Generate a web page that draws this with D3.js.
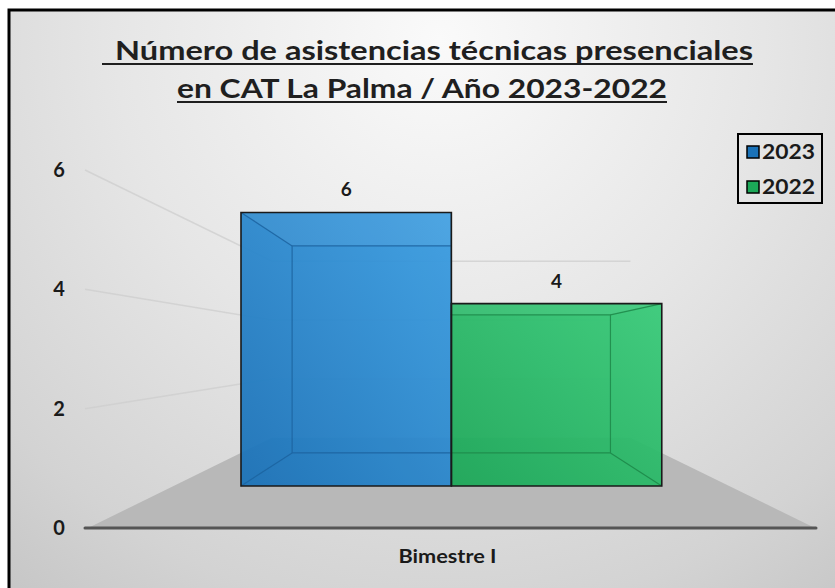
<!DOCTYPE html>
<html>
<head>
<meta charset="utf-8">
<script src="https://cdn.jsdelivr.net/npm/d3@7"></script>
<style>
  body { margin: 0; background: #fff; }
  svg { display: block; font-family: Lato, "Open Sans", sans-serif; }
</style>
</head>
<body>
<svg id="chart" width="835" height="588"></svg>
<script>
// data
const categories = ["Bimestre I"];
const series = ["2023", "2022"];
const values2023 = [6];
const values2022 = [4];
const yTicks = [0, 2, 4, 6];
const titleLines = ["Número de asistencias técnicas presenciales", "en CAT La Palma / Año 2023-2022"];
const colors = {"2023": ["#3a9de2", "#1a72b8", "#1462a3"], "2022": ["#38cb79", "#1ca858", "#168c47"]};

const chart = d3.select("#chart");
const defs = chart.append("defs");

// background
const bg = defs.append("radialGradient").attr("id", "bg")
      .attr("gradientUnits", "userSpaceOnUse")
      .attr("cx", 440).attr("cy", 40).attr("r", 720);
[[0, "#fafafa"], [0.45, "#e6e6e6"], [0.8, "#d3d3d3"], [1, "#c4c4c4"]].forEach(s => {
      bg.append("stop").attr("offset", s[0]).attr("stop-color", s[1]);
});
series.forEach(k => {
      const g = defs.append("linearGradient").attr("id", "grad" + k)
            .attr("x1", 1).attr("y1", 0).attr("x2", 0).attr("y2", 1);
      g.append("stop").attr("offset", 0).attr("stop-color", colors[k][0]);
      g.append("stop").attr("offset", 1).attr("stop-color", colors[k][1]);
});

chart.append("rect")
      .attr("x", 9).attr("y", 10)
      .attr("width", 840).attr("height", 600)
      .attr("fill", "url(#bg)")
      .attr("stroke", "#000")
      .attr("stroke-width", 3);

// perspective: front plane scales, then shrink toward vanishing point
const VP = [451, 350];
const S_BAR_FRONT = 0.764, S_BAR_BACK = 0.578, S_WALL = 0.493;
const project = (X, Y, s) => [VP[0] + s * (X - VP[0]), VP[1] + s * (Y - VP[1])];

const yScale = d3.scaleLinear().domain([0, 6]).range([528, 170]);
const xScale = d3.scaleBand().domain(categories).range([88, 815])
      .paddingInner(0).paddingOuter(0.16);
const xSeries = d3.scaleBand().domain(series).range([0, xScale.bandwidth()]);

const x0 = xScale.range()[0], x1 = xScale.range()[1];
const line = d3.line();

// gridlines: side wall + back wall
const wallR = project(x1, 0, S_WALL)[0];
yTicks.filter(v => v > 0).forEach(v => {
      const back = project(x0, yScale(v), S_WALL);
      chart.append("path")
            .attr("d", line([[x0 - 3, yScale(v)], back, [wallR, back[1]]]))
            .attr("fill", "none")
            .attr("stroke", "#cdcdcd")
            .attr("stroke-opacity", 0.75)
            .attr("stroke-width", 1.5);
});

// floor
chart.append("path")
      .attr("d", line([[x0, yScale(0)], [x1, yScale(0)],
            project(x1, yScale(0), S_WALL), project(x0, yScale(0), S_WALL)]) + "Z")
      .attr("fill", "#b8b8b8");

// bars
const data = [];
categories.forEach((c, i) => {
      data.push({cat: c, key: "2023", value: values2023[i]});
      data.push({cat: c, key: "2022", value: values2022[i]});
});

data.forEach(d => {
      const X1 = xScale(d.cat) + xSeries(d.key);
      const X2 = X1 + xSeries.bandwidth();
      const Yt = yScale(d.value), Yb = yScale(0);
      const f = [[X1, Yt], [X2, Yt], [X2, Yb], [X1, Yb]].map(p => project(p[0], p[1], S_BAR_FRONT));
      const b = [[X1, Yt], [X2, Yt], [X2, Yb], [X1, Yb]].map(p => project(p[0], p[1], S_BAR_BACK));
      d.front = f;

      const g = chart.append("g").attr("opacity", 0.94);
      g.append("path")
            .attr("d", line(f) + "Z")
            .attr("fill", "url(#grad" + d.key + ")");
      // top face highlight
      g.append("path")
            .attr("d", line([f[0], f[1], b[1], b[0]]) + "Z")
            .attr("fill", "#fff").attr("fill-opacity", 0.05);
      // back edges seen through
      g.append("path")
            .attr("d", line(b) + "Z")
            .attr("fill", "none")
            .attr("stroke", colors[d.key][2])
            .attr("stroke-width", 1.2);
      f.forEach((p, i) => {
            g.append("path")
                  .attr("d", line([p, b[i]]))
                  .attr("stroke", colors[d.key][2])
                  .attr("stroke-width", 1.2);
      });
});

data.forEach(d => {
      chart.append("path")
            .attr("d", line(d.front) + "Z")
            .attr("fill", "none")
            .attr("stroke", "#1a1a1a")
            .attr("stroke-width", 1.6);

      chart.append("text")
            .text(d.value)
            .attr("x", (d.front[0][0] + d.front[1][0]) / 2)
            .attr("y", d.front[0][1] - 16)
            .attr("text-anchor", "middle")
            .attr("font-size", "19px")
            .attr("font-weight", 700)
            .attr("fill", "#1a1a1a");
});

// axis line (floor front edge)
chart.append("line")
      .attr("x1", x0 - 3).attr("x2", x1 + 1)
      .attr("y1", yScale(0)).attr("y2", yScale(0))
      .attr("stroke", "#555")
      .attr("stroke-width", 3)
      .attr("stroke-linecap", "round");

// y labels
chart.selectAll("text.ylab")
      .data(yTicks).enter()
      .append("text")
      .attr("class", "ylab")
      .text(d => d)
      .attr("x", 59)
      .attr("y", d => yScale(d) + 7)
      .attr("text-anchor", "middle")
      .attr("font-size", "20px")
      .attr("font-weight", 700)
      .attr("fill", "#1a1a1a");

// category label
chart.selectAll("text.xlab")
      .data(categories).enter()
      .append("text")
      .attr("class", "xlab")
      .text(d => d)
      .attr("x", d => xScale(d) + xScale.bandwidth() / 2 - 4)
      .attr("y", 563)
      .attr("text-anchor", "middle")
      .attr("font-size", "19px")
      .attr("font-weight", 700)
      .attr("textLength", 98)
      .attr("lengthAdjust", "spacingAndGlyphs")
      .attr("fill", "#1a1a1a");

// title
const titlePos = [{x: 115, y: 60, len: 638, ux: 102, uy: 64}, {x: 177, y: 98, len: 490, ux: 177, uy: 102}];
titleLines.forEach((t, i) => {
      const p = titlePos[i];
      chart.append("text")
            .text(t)
            .attr("x", p.x).attr("y", p.y)
            .attr("font-size", "27px")
            .attr("font-weight", 700)
            .attr("textLength", p.len)
            .attr("lengthAdjust", "spacingAndGlyphs")
            .attr("fill", "#1f1f1f");
      chart.append("line")
            .attr("x1", p.ux).attr("x2", p.x + p.len)
            .attr("y1", p.uy).attr("y2", p.uy)
            .attr("stroke", "#1f1f1f")
            .attr("stroke-width", 2);
});

// legend
const legend = chart.append("g");
legend.append("rect")
      .attr("x", 738).attr("y", 134)
      .attr("width", 84).attr("height", 69)
      .attr("fill", "none")
      .attr("stroke", "#000")
      .attr("stroke-width", 2);
series.forEach((k, i) => {
      legend.append("rect")
            .attr("x", 747).attr("y", 146 + i * 35)
            .attr("width", 12).attr("height", 12)
            .attr("fill", colors[k][1])
            .attr("stroke", "#000")
            .attr("stroke-width", 1.5);
      legend.append("text")
            .text(k)
            .attr("x", 762).attr("y", 159 + i * 35)
            .attr("font-size", "20px")
            .attr("font-weight", 700)
            .attr("textLength", 53)
            .attr("lengthAdjust", "spacingAndGlyphs")
            .attr("fill", "#1a1a1a");
});
</script>
</body>
</html>
